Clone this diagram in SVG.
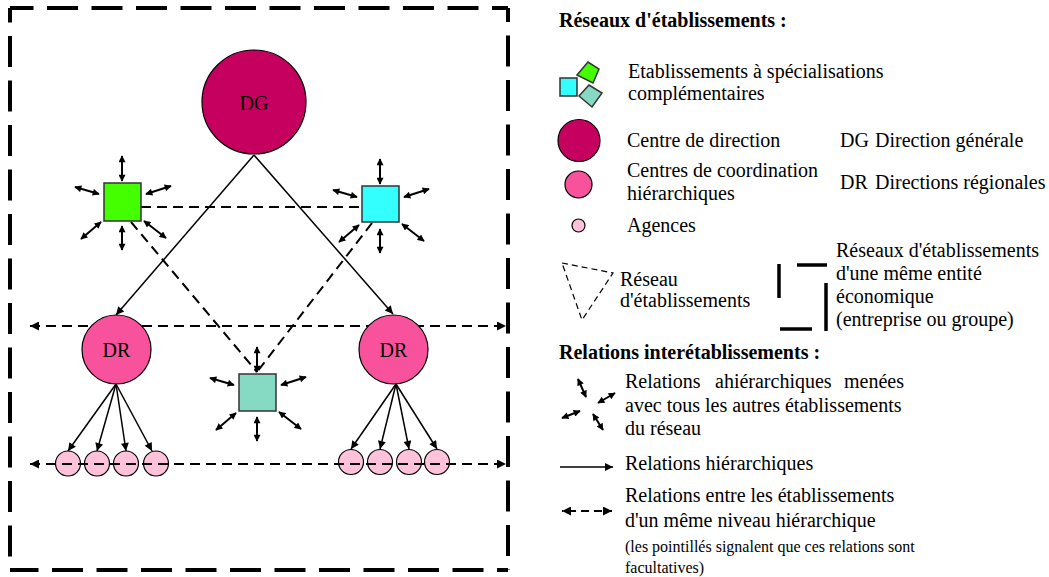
<svg xmlns="http://www.w3.org/2000/svg" xmlns:xlink="http://www.w3.org/1999/xlink" width="1049" height="577" viewBox="0 0 1049 577">
<style>
.t{font-family:"Liberation Serif","Times New Roman",serif;font-size:20px;fill:#000}
.b{font-weight:bold}
.s{font-size:16px}
.frame{fill:none;stroke:#000;stroke-width:4;stroke-dasharray:31 13.5}
.sol{stroke:#000;stroke-width:1.5;fill:none}
.dash{stroke:#000;stroke-width:2;fill:none;stroke-dasharray:10 6}
.dbl{stroke:#000;stroke-width:2;fill:none;marker-start:url(#sm);marker-end:url(#sm)}
.sq{stroke:#333;stroke-width:1.5}
.ci{stroke:#000;stroke-width:1.2}
</style>
<defs>
<marker id="sm" viewBox="0 0 10 10" refX="9" refY="5" markerWidth="8" markerHeight="7" markerUnits="userSpaceOnUse" orient="auto-start-reverse"><path d="M0,0L10,5L0,10z" fill="#000"/></marker>
<marker id="ah" viewBox="0 0 10 10" refX="10" refY="5" markerWidth="11" markerHeight="8" markerUnits="userSpaceOnUse" orient="auto"><path d="M0,0L10,5L0,10z" fill="#000"/></marker>
<marker id="bh" viewBox="0 0 10 10" refX="10" refY="5" markerWidth="14" markerHeight="9" markerUnits="userSpaceOnUse" orient="auto-start-reverse"><path d="M0,0L10,5L0,10z" fill="#000"/></marker>
<g id="star">
<line class="dbl" x1="18" y1="-27" x2="18" y2="-2"/>
<line class="dbl" x1="-29" y1="4" x2="-5" y2="11"/>
<line class="dbl" x1="42" y1="11" x2="67" y2="3"/>
<line class="dbl" x1="-23" y1="56" x2="-3" y2="39"/>
<line class="dbl" x1="40" y1="38" x2="62" y2="55"/>
<line class="dbl" x1="18" y1="43" x2="18" y2="67"/>
</g>
</defs>
<rect width="1049" height="577" fill="#fff"/>

<g id="frame">
<line class="frame" x1="10" y1="8" x2="508" y2="8" stroke-dashoffset="7.5"/>
<line class="frame" x1="508" y1="8" x2="508" y2="570" stroke-dashoffset="17"/>
<line class="frame" x1="508" y1="570" x2="10" y2="570" stroke-dashoffset="20"/>
<line class="frame" x1="10" y1="570" x2="10" y2="8" stroke-dashoffset="31"/>
</g>

<g id="connectors">
<line class="dash" x1="30" y1="326" x2="506" y2="326" marker-start="url(#bh)" marker-end="url(#bh)"/>
<line class="sol" x1="254" y1="155" x2="116" y2="315" marker-end="url(#ah)"/>
<line class="sol" x1="254" y1="155" x2="393" y2="314" marker-end="url(#ah)"/>
<line class="dash" x1="141" y1="207" x2="362" y2="207"/>
<line class="dash" x1="131" y1="222" x2="257" y2="372"/>
<line class="dash" x1="372" y1="223" x2="257" y2="372"/>
<line class="sol" x1="116" y1="384" x2="68" y2="451" marker-end="url(#ah)"/>
<line class="sol" x1="116" y1="384" x2="97" y2="451" marker-end="url(#ah)"/>
<line class="sol" x1="116" y1="384" x2="126" y2="451" marker-end="url(#ah)"/>
<line class="sol" x1="116" y1="384" x2="152" y2="451" marker-end="url(#ah)"/>
<line class="sol" x1="396" y1="384" x2="351" y2="449" marker-end="url(#ah)"/>
<line class="sol" x1="396" y1="384" x2="380" y2="449" marker-end="url(#ah)"/>
<line class="sol" x1="396" y1="384" x2="409" y2="449" marker-end="url(#ah)"/>
<line class="sol" x1="396" y1="384" x2="437" y2="449" marker-end="url(#ah)"/>
</g>

<g id="DG"><circle class="ci" cx="254" cy="102" r="52" fill="#C6005F"/><text class="t" x="254" y="110" text-anchor="middle" font-size="23">DG</text></g>
<g id="DR1"><circle class="ci" cx="116.5" cy="349.5" r="34.5" fill="#F9529C"/><text class="t" x="116.5" y="357" text-anchor="middle">DR</text></g>
<g id="DR2"><circle class="ci" cx="393.5" cy="349.5" r="34.5" fill="#F9529C"/><text class="t" x="393.5" y="357" text-anchor="middle">DR</text></g>

<g id="sq-green"><rect class="sq" x="104" y="183" width="37" height="38" fill="#44FF00"/><use xlink:href="#star" href="#star" x="104" y="183"/></g>
<g id="sq-cyan"><rect class="sq" x="362" y="186" width="37" height="36" fill="#33FFFF"/><use xlink:href="#star" href="#star" x="362" y="186"/></g>
<g id="sq-teal"><rect class="sq" x="239" y="374" width="37" height="37" fill="#86D9C3"/><use xlink:href="#star" href="#star" x="239" y="374"/></g>

<g id="agences">
<circle class="ci" cx="68" cy="463.5" r="12.5" fill="#FFC2DA"/>
<circle class="ci" cx="97" cy="463.5" r="12.5" fill="#FFC2DA"/>
<circle class="ci" cx="126" cy="463.5" r="12.5" fill="#FFC2DA"/>
<circle class="ci" cx="156" cy="463.5" r="12.5" fill="#FFC2DA"/>
<circle class="ci" cx="351" cy="462" r="12.5" fill="#FFC2DA"/>
<circle class="ci" cx="380" cy="462" r="12.5" fill="#FFC2DA"/>
<circle class="ci" cx="409" cy="462" r="12.5" fill="#FFC2DA"/>
<circle class="ci" cx="437" cy="462" r="12.5" fill="#FFC2DA"/>
</g>
<g id="connectors-agences">
<line class="dash" x1="30" y1="464" x2="506" y2="464" marker-start="url(#bh)" marker-end="url(#bh)"/>
</g>

<g id="legend">
<text class="t b" x="559" y="27">Réseaux d'établissements :</text>
<polygon class="sq" points="577,75 588,62 599,69 593,83" fill="#44FF00"/>
<rect class="sq" x="560" y="78" width="17" height="18" fill="#33FFFF"/>
<polygon class="sq" points="579,96 589,85 602,93 592,107" fill="#86D9C3"/>
<text class="t" x="628" y="78">Etablissements à spécialisations</text>
<text class="t" x="628" y="100">complémentaires</text>
<circle class="ci" cx="579" cy="140.5" r="21" fill="#C6005F"/>
<text class="t" x="627" y="147">Centre de direction</text>
<text class="t" x="840" y="147">DG</text>
<text class="t" x="875" y="147">Direction générale</text>
<circle class="ci" cx="578.5" cy="184.5" r="13.5" fill="#F9529C"/>
<text class="t" x="627" y="177">Centres de coordination</text>
<text class="t" x="627" y="200">hiérarchiques</text>
<text class="t" x="840" y="189">DR</text>
<text class="t" x="875" y="189">Directions régionales</text>
<circle class="ci" cx="578.5" cy="225.5" r="6.5" fill="#FFC2DA"/>
<text class="t" x="627" y="232">Agences</text>
<polygon points="562,263 613,273 582,320" fill="none" stroke="#000" stroke-width="1.2" stroke-dasharray="6 4"/>
<text class="t" x="620" y="286">Réseau</text>
<text class="t" x="620" y="307">d'établissements</text>
<g stroke="#000" stroke-width="3.5">
<line x1="779" y1="264" x2="779" y2="298"/>
<line x1="797" y1="265" x2="827" y2="265"/>
<line x1="826" y1="283" x2="826" y2="331"/>
<line x1="780" y1="329" x2="812" y2="329"/>
</g>
<text class="t" x="836" y="257">Réseaux d'établissements</text>
<text class="t" x="836" y="280">d'une même entité</text>
<text class="t" x="836" y="303">économique</text>
<text class="t" x="836" y="326">(entreprise ou groupe)</text>
<text class="t b" x="559" y="359">Relations interétablissements :</text>
<line class="dbl" x1="578" y1="379" x2="586" y2="397"/>
<line class="dbl" x1="598" y1="403" x2="615" y2="393"/>
<line class="dbl" x1="562" y1="418" x2="580" y2="411"/>
<line class="dbl" x1="593" y1="414" x2="603" y2="430"/>
<text class="t" x="625" y="388">Relations</text>
<text class="t" x="715" y="388">ahiérarchiques</text>
<text class="t" x="904" y="388" text-anchor="end">menées</text>
<text class="t" x="625" y="412">avec tous les autres établissements</text>
<text class="t" x="625" y="435">du réseau</text>
<line class="sol" x1="560" y1="467" x2="613" y2="467" stroke-width="2" marker-end="url(#ah)"/>
<text class="t" x="625" y="470">Relations hiérarchiques</text>
<line x1="562" y1="511" x2="612" y2="511" stroke="#000" stroke-width="2" stroke-dasharray="8 5" stroke-dashoffset="-6" marker-start="url(#bh)" marker-end="url(#bh)"/>
<text class="t" x="625" y="502">Relations entre les établissements</text>
<text class="t" x="625" y="527">d'un même niveau hiérarchique</text>
<text class="t s" x="625" y="552">(les pointillés signalent que ces relations sont</text>
<text class="t s" x="625" y="573">facultatives)</text>
</g>
</svg>
